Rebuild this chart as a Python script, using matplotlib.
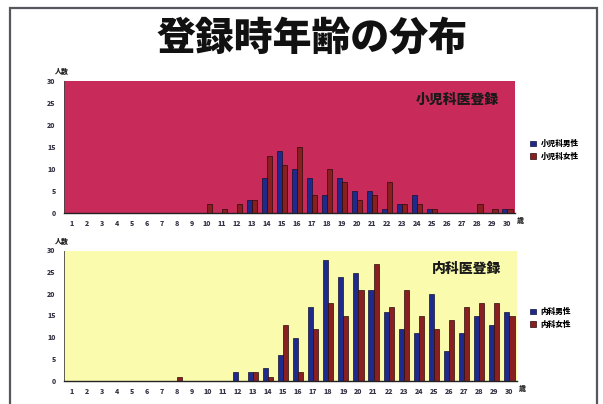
import matplotlib
matplotlib.use("Agg")
import matplotlib.pyplot as plt
from matplotlib.patches import Rectangle
import numpy as np

plt.rcParams['font.family'] = ['Noto Sans CJK JP', 'DejaVu Sans']

ages = list(range(1, 31))

ped_male = [0, 0, 0, 0, 0, 0, 0, 0, 0, 0, 0, 0, 3, 8, 14, 10, 8, 4, 8, 5,
            5, 1, 2, 4, 1, 0, 0, 0, 0, 1]
ped_female = [0, 0, 0, 0, 0, 0, 0, 0, 0, 2, 1, 2, 3, 13, 11, 15, 4, 10, 7, 3,
              4, 7, 2, 2, 1, 0, 0, 2, 1, 1]

int_male = [0, 0, 0, 0, 0, 0, 0, 0, 0, 0, 0, 2, 2, 3, 6, 10, 17, 28, 24, 25,
            21, 16, 12, 11, 20, 7, 11, 15, 13, 16]
int_female = [0, 0, 0, 0, 0, 0, 0, 1, 0, 0, 0, 0, 2, 1, 13, 2, 12, 18, 15, 21,
              27, 17, 21, 15, 12, 14, 17, 18, 18, 15]

yticks = [0, 5, 10, 15, 20, 25, 30]

W, H = 603, 404
fig = plt.figure(figsize=(W / 100, H / 100), dpi=100)
fig.patch.set_facecolor('white')

# outer frame
fig.patches.append(Rectangle((10 / W, -0.05), (597 - 10) / W, (H - 8) / H + 0.05,
                             transform=fig.transFigure, fill=False,
                             edgecolor='#55575c', linewidth=1.6))

fig.text(312 / W, 1 - 38 / H, '登録時年齢の分布', ha='center', va='center',
         fontsize=28, fontweight='black', color='#111111')

BLUE = '#1e2a8c'
RED = '#8a1f22'


def panel(rect, male, female, bg, label, male_name, female_name, leg_y):
    ax = fig.add_axes(rect)
    ax.set_facecolor(bg)
    x = np.array(ages)
    w = 0.34
    ax.bar(x - w / 2, male, width=w, color=BLUE, edgecolor='#111133',
           linewidth=0.5, label=male_name)
    ax.bar(x + w / 2, female, width=w, color=RED, edgecolor='#2a0a0a',
           linewidth=0.5, label=female_name)
    ax.set_xlim(0.5, 30.5)
    ax.set_ylim(0, 30)
    ax.set_xticks(ages)
    ax.set_xticklabels([str(a) for a in ages], fontsize=5, fontweight='black',
                       color='#333344')
    ax.set_yticks(yticks)
    ax.set_yticklabels([str(v) for v in yticks], fontsize=5, fontweight='black',
                       color='#333344')
    ax.tick_params(axis='both', length=0, pad=6)
    for s in ['top', 'right']:
        ax.spines[s].set_visible(False)
    ax.spines['left'].set_color('#444444')
    ax.spines['bottom'].set_color('#222222')
    ax.spines['left'].set_linewidth(0.6)
    ax.spines['bottom'].set_linewidth(1.0)
    ax.text(0.965, 0.86, label, transform=ax.transAxes, ha='right', va='center',
            fontsize=10, fontweight='black', color='#1a1a1a')
    ax.text(-0.005, 1.07, '人数', transform=ax.transAxes, ha='center',
            va='center', fontsize=5, fontweight='black', color='#222222')
    ax.text(1.012, -0.06, '歳', transform=ax.transAxes, ha='center',
            va='center', fontsize=5, fontweight='black', color='#222222')
    fig.legend(handles=ax.patches[:1] + ax.patches[30:31],
               labels=[male_name, female_name],
               loc='center left', bbox_to_anchor=(523 / W, 1 - leg_y / H),
               frameon=False, handlelength=0.8, handleheight=0.8,
               handletextpad=0.6, labelspacing=0.5,
               prop={'weight': 'black', 'size': 5.5})
    return ax


panel([64 / W, 1 - 213 / H, (515 - 64) / W, (213 - 81) / H],
      ped_male, ped_female, '#c82a5a', '小児科医登録',
      '小児科男性', '小児科女性', 150)
panel([64 / W, 1 - 381 / H, (517 - 64) / W, (381 - 251) / H],
      int_male, int_female, '#fbfbae', '内科医登録',
      '内科男性', '内科女性', 318)

fig.savefig('out.png', dpi=100, facecolor='white')
